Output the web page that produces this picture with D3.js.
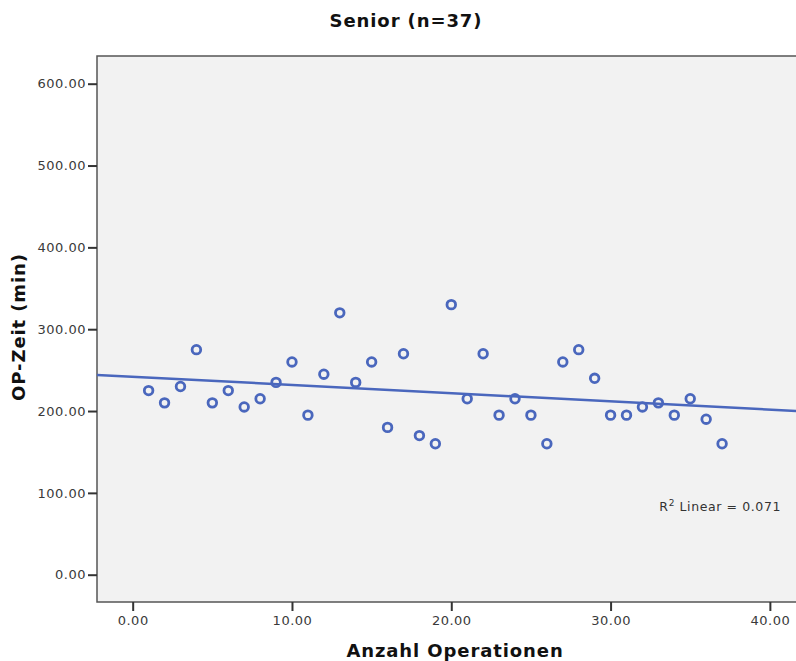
<!DOCTYPE html>
<html><head><meta charset="utf-8">
<script src="https://cdn.jsdelivr.net/npm/d3@7"></script>
<style>body{margin:0;background:#fff;}svg{display:block;}</style>
</head><body>
<svg id="c" width="796" height="661"></svg>
<script>
const operations = [1,2,3,4,5,6,7,8,9,10,11,12,13,14,15,16,17,18,19,20,21,22,23,24,25,26,27,28,29,30,31,32,33,34,35,36,37];
const opTimes = [225,210,230,275,210,225,205,215,235,260,195,245,320,235,260,180,270,170,160,330,215,270,195,215,195,160,260,275,240,195,195,205,210,195,215,190,160];
const xTicks = [0,10,20,30,40];
const yTicks = [0,100,200,300,400,500,600];
const title = "Senior (n=37)";
const xLabel = "Anzahl Operationen";
const yLabel = "OP-Zeit (min)";
const r2Text = "0.071";

const svg = d3.select("#c");
const L = 97, T = 56, B = 602, R = 830;
const x = d3.scaleLinear().domain([-2.24, 41.64]).range([L, 796]);
const y = d3.scaleLinear().domain([0, 600]).range([574.7, 83.7]);
const xMax = x.invert(R);

svg.append("rect").attr("x", L).attr("y", T).attr("width", R - L).attr("height", B - T)
  .attr("fill", "#f2f2f2").attr("stroke", "#555").attr("stroke-width", 1.5);

// regression
const n = operations.length;
const mx = d3.mean(operations), my = d3.mean(opTimes);
let sxy = 0, sxx = 0;
for (let i = 0; i < n; i++) { sxy += (operations[i]-mx)*(opTimes[i]-my); sxx += (operations[i]-mx)**2; }
const slope = sxy / sxx, icpt = my - slope * mx;
const x0 = x.domain()[0];
svg.append("line").attr("x1", x(x0)).attr("y1", y(icpt + slope*x0))
  .attr("x2", R).attr("y2", y(icpt + slope*xMax))
  .attr("stroke", "#4a67bd").attr("stroke-width", 2.5);

svg.append("g").selectAll("circle").data(operations).join("circle")
  .attr("cx", d => x(d)).attr("cy", (d, i) => y(opTimes[i])).attr("r", 4.3)
  .attr("fill", "none").attr("stroke", "#4a67bd").attr("stroke-width", 2.8);

// axes
const font = "'DejaVu Sans', sans-serif";
const yAxis = svg.append("g").attr("transform", `translate(${L},0)`)
  .call(d3.axisLeft(y).tickValues(yTicks).tickFormat(d3.format(".2f")).tickSize(9).tickPadding(2));
const xAxis = svg.append("g").attr("transform", `translate(0,${B})`)
  .call(d3.axisBottom(x).tickValues(xTicks).tickFormat(d3.format(".2f")).tickSize(9).tickPadding(5));
[yAxis, xAxis].forEach(g => {
  g.select(".domain").remove();
  g.selectAll("line").attr("stroke", "#333").attr("stroke-width", 2);
  g.selectAll("text").attr("fill", "#3a3a3a").style("font-family", font).style("font-size", "13px").style("letter-spacing", "0.5px");
});

const lblStyle = s => s.style("font-family", font).style("font-weight", "bold").style("font-size", "18px")
  .style("letter-spacing", "0.9px").attr("fill", "#111");
svg.append("text").attr("x", 406).attr("y", 27).attr("text-anchor", "middle").call(lblStyle).text(title);
svg.append("text").attr("x", 455).attr("y", 657).attr("text-anchor", "middle").call(lblStyle).text(xLabel);
svg.append("text").attr("transform", "translate(25,327) rotate(-90)").attr("text-anchor", "middle").call(lblStyle).text(yLabel);

const r2 = svg.append("text").attr("x", 781).attr("y", 511).attr("text-anchor", "end")
  .style("font-family", font).style("font-size", "12.5px").style("letter-spacing", "0.6px").attr("fill", "#333");
r2.append("tspan").text("R");
r2.append("tspan").attr("dy", -5).style("font-size", "9px").text("2");
r2.append("tspan").attr("dy", 5).text(" Linear = " + r2Text);
</script>
</body></html>
